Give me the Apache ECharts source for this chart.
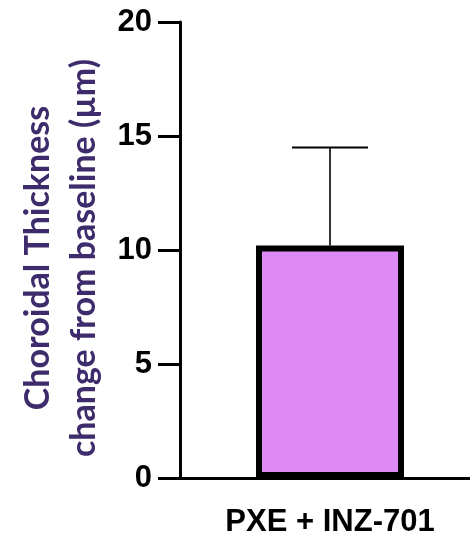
<!DOCTYPE html>
<html>
<head>
<meta charset="utf-8">
<script src="https://cdn.jsdelivr.net/npm/echarts@6/dist/echarts.min.js"></script>
<style>
  html, body { margin: 0; padding: 0; background: #fff; }
  #chart { width: 470px; height: 540px; }
</style>
</head>
<body>
<div id="chart"></div>
<script>
// Mean change in choroidal thickness and its upper error (SD)
const categories = ['PXE + INZ-701'];
const meanChange = [10.2];
const errorUp = [4.3];
const yTicks = [0, 5, 10, 15, 20];

const chart = echarts.init(document.getElementById('chart'), null, { renderer: 'canvas' });

const errorData = categories.map((c, i) => [i, meanChange[i], meanChange[i] + errorUp[i]]);

chart.setOption({
  animation: false,
  grid: {
    left: 180, top: 22, width: 300, bottom: 62,
    containLabel: false, outerBoundsMode: 'none'
  },
  xAxis: {
    type: 'category',
    data: categories,
    axisLine: { lineStyle: { color: '#000', width: 3 } },
    axisTick: { show: false },
    axisLabel: {
      color: '#000', fontFamily: 'Liberation Sans, Arial, sans-serif',
      fontWeight: 'bold', fontSize: 31, margin: 29
    }
  },
  yAxis: {
    type: 'value',
    min: yTicks[0], max: yTicks[yTicks.length - 1], interval: 5,
    splitLine: { show: false },
    axisLine: { show: true, lineStyle: { color: '#000', width: 3 } },
    axisTick: { show: true, length: 22, lineStyle: { color: '#000', width: 3 } },
    axisLabel: {
      color: '#000', fontFamily: 'Liberation Sans, Arial, sans-serif',
      fontWeight: 'bold', fontSize: 31, margin: 28
    },
    name: 'Choroidal Thickness\nchange from baseline (µm)',
    nameLocation: 'middle',
    nameRotate: 90,
    nameGap: 73,
    nameTextStyle: {
      color: '#3d2b6b', fontFamily: 'Lato, "Open Sans", sans-serif',
      fontWeight: 'bold', fontSize: 34, lineHeight: 46,
      padding: [0, 16, 0, 0]
    }
  },
  series: [
    {
      type: 'bar',
      data: meanChange,
      barWidth: 148,
      itemStyle: { color: '#dd89f6', borderColor: '#000', borderWidth: 6 },
      z: 2
    },
    {
      type: 'custom',
      data: errorData,
      z: 1,
      renderItem: function (params, api) {
        const base = api.coord([api.value(0), api.value(1)]);
        const top = api.coord([api.value(0), api.value(2)]);
        const half = 38;
        return {
          type: 'group',
          children: [
            { type: 'line', shape: { x1: base[0], y1: base[1], x2: top[0], y2: top[1] },
              style: { stroke: '#000', lineWidth: 1.6 } },
            { type: 'line', shape: { x1: top[0] - half, y1: top[1], x2: top[0] + half, y2: top[1] },
              style: { stroke: '#000', lineWidth: 2 } }
          ]
        };
      }
    }
  ]
});
</script>
</body>
</html>
